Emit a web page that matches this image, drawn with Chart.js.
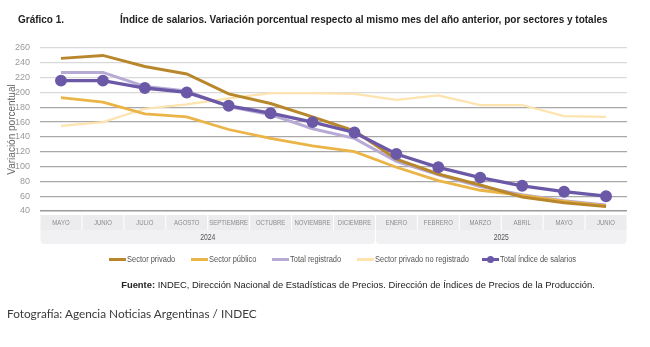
<!DOCTYPE html>
<html>
<head>
<meta charset="utf-8">
<script src="https://cdn.jsdelivr.net/npm/chart.js@4"></script>
<style>
  body { margin: 0; background: #fff; }
  #wrap { position: relative; width: 650px; height: 347px; overflow: hidden; }
  #wrap canvas { position: absolute; left: 0; top: 0; }
  .fit { position: absolute; white-space: nowrap; transform-origin: 0 50%; font-family: "Liberation Sans", Arial, sans-serif; }
  #num { left: 18px; top: 13px; font-size: 11.5px; font-weight: bold; color: #222; }
  #title { left: 120px; top: 13px; font-size: 11.5px; font-weight: bold; color: #222; }
  .leg { top: 253px; font-size: 8.5px; color: #555; line-height: 12px; }
  .sw { position: absolute; top: 258px; width: 17px; height: 3px; }
  .dot { position: absolute; top: -2px; left: 5px; width: 7px; height: 7px; border-radius: 50%; }
  #src { position: absolute; left: 0; width: 716px; top: 279px; text-align: center; font-family: "Liberation Sans", Arial, sans-serif; font-size: 9.4px; color: #222; white-space: nowrap; }
  #foot { position: absolute; left: 7px; top: 306px; font-family: Lato, "Open Sans", sans-serif; font-size: 11.8px; color: #3a3a3a; }
</style>
</head>
<body>
<div id="wrap">
  <canvas id="salarios"></canvas>
  <div id="num" class="fit" data-w="46">Gráfico 1.</div>
  <div id="title" class="fit" data-w="488">Índice de salarios. Variación porcentual respecto al mismo mes del año anterior, por sectores y totales</div>
  <div id="legend"></div>
  <div id="src"><b>Fuente:</b> INDEC, Dirección Nacional de Estadísticas de Precios. Dirección de Índices de Precios de la Producción.</div>
  <div id="foot">Fotografía: Agencia Noticias Argentinas / INDEC</div>
</div>
<script>
const months = ['MAYO', 'JUNIO', 'JULIO', 'AGOSTO', 'SEPTIEMBRE', 'OCTUBRE', 'NOVIEMBRE', 'DICIEMBRE',
                'ENERO', 'FEBRERO', 'MARZO', 'ABRIL', 'MAYO', 'JUNIO'];
const monthYear = ['2024', '2024', '2024', '2024', '2024', '2024', '2024', '2024',
                   '2025', '2025', '2025', '2025', '2025', '2025'];
const yTicks = [40, 260, 20]; // min, max, step

const sectorPrivado    = [246, 250, 235, 225, 198, 185, 167, 148, 110, 90, 75, 59, 51, 46];
const sectorPublico    = [193, 187, 171, 167, 150, 138, 128, 120, 99, 81, 68, 61, 53, 47];
const totalRegistrado  = [227, 227, 208, 202, 181, 170, 151, 138, 107, 89, 73, 62, 54, 48];
const privadoNoRegistr = [155, 160, 178, 184, 192, 199, 199, 198, 190, 196, 183, 183, 168, 167];
const totalIndice      = [216, 216, 206, 200, 182, 172, 160, 146, 117, 99, 85, 74, 66, 60];

const series = [
  { label: 'Sector privado', data: sectorPrivado, color: '#b8872c', width: 3, order: 1 },
  { label: 'Sector público', data: sectorPublico, color: '#ebb446', width: 2.8, order: 2 },
  { label: 'Total registrado', data: totalRegistrado, color: '#b7abd6', width: 3, order: 3 },
  { label: 'Sector privado no registrado', data: privadoNoRegistr, color: '#fde3ad', width: 2.2, order: 4 },
  { label: 'Total índice de salarios', data: totalIndice, color: '#6b58a6', width: 3.3, order: 0, dots: true }
];

// legend in html, text squeezed to look condensed
const legX = [109, 191, 272, 357, 482];
const legend = document.getElementById('legend');
series.forEach((s, i) => {
  const sw = document.createElement('div');
  sw.className = 'sw';
  sw.style.left = legX[i] + 'px';
  sw.style.background = s.color;
  if (s.dots) sw.innerHTML = '<div class="dot" style="background:' + s.color + '"></div>';
  legend.appendChild(sw);
  const t = document.createElement('div');
  t.className = 'fit leg';
  t.style.left = (legX[i] + 18) + 'px';
  t.style.transform = 'scaleX(0.88)';
  t.textContent = s.label;
  legend.appendChild(t);
});

document.querySelectorAll('[data-w]').forEach(el => {
  el.style.transform = 'scaleX(' + (el.dataset.w / el.scrollWidth) + ')';
});

// grey boxes with month and year under the plot
const monthAxis = {
  id: 'monthAxis',
  afterDraw(chart) {
    const { ctx, chartArea } = chart;
    const x = chart.scales.x;
    const w = (chartArea.right - chartArea.left) / months.length;
    const rowTop = chartArea.bottom + 4, rowH = 15, yearH = 14;
    ctx.save();
    ctx.textAlign = 'center';
    ctx.textBaseline = 'middle';
    const squeezed = (txt, cx, cy) => {
      ctx.save();
      ctx.translate(cx, cy);
      ctx.scale(0.8, 1);
      ctx.fillText(txt, 0, 0);
      ctx.restore();
    };
    months.forEach((m, i) => {
      const cx = x.getPixelForValue(i);
      ctx.fillStyle = '#ececee';
      ctx.fillRect(cx - w / 2 + 0.5, rowTop, w - 1, rowH);
      ctx.fillStyle = '#8c8c8c';
      ctx.font = '7.5px "Liberation Sans", Arial, sans-serif';
      squeezed(m, cx, rowTop + rowH / 2 + 0.5);
    });
    // year groups
    let start = 0;
    for (let i = 1; i <= monthYear.length; i++) {
      if (i === monthYear.length || monthYear[i] !== monthYear[start]) {
        const x0 = x.getPixelForValue(start) - w / 2 + 0.5;
        const x1 = x.getPixelForValue(i - 1) + w / 2 - 0.5;
        ctx.fillStyle = '#f1f1f3';
        ctx.beginPath();
        ctx.roundRect(x0, rowTop + rowH, x1 - x0, yearH, [0, 0, 4, 4]);
        ctx.fill();
        ctx.fillStyle = '#555';
        ctx.font = '8.5px "Liberation Sans", Arial, sans-serif';
        squeezed(monthYear[start], (x0 + x1) / 2, rowTop + rowH + yearH / 2 + 0.5);
        start = i;
      }
    }
    ctx.restore();
  }
};

new Chart(document.getElementById('salarios'), {
  type: 'line',
  data: {
    labels: months,
    datasets: series.map(s => ({
      label: s.label,
      data: s.data,
      borderColor: s.color,
      backgroundColor: s.color,
      borderWidth: s.width,
      pointRadius: s.dots ? 4.3 : 0,
      pointHoverRadius: s.dots ? 4.3 : 0,
      tension: 0,
      order: s.order
    }))
  },
  options: {
    responsive: true,
    maintainAspectRatio: false,
    animation: false,
    layout: { padding: { top: 48, right: 23, bottom: 136, left: 0 } },
    plugins: { legend: { display: false }, tooltip: { enabled: false } },
    scales: {
      x: {
        offset: true,
        grid: { display: false, drawTicks: false },
        border: { display: false },
        ticks: { display: false }
      },
      y: {
        min: yTicks[0],
        max: yTicks[1],
        afterFit: (s) => { s.width = 40; },
        border: { display: false },
        grid: {
          drawTicks: false,
          color: (c) => c.tick.value === 40 ? '#9a9a9a' : (c.tick.value >= 200 ? '#d9d9d9' : '#a8a8a8'),
          lineWidth: (c) => c.tick.value === 40 ? 1.6 : 1.2
        },
        ticks: {
          stepSize: yTicks[2],
          padding: 10,
          color: '#9a9a9a',
          font: { family: '"Liberation Sans", Arial, sans-serif', size: 9 }
        },
        title: {
          display: true,
          text: 'Variación porcentual',
          color: '#666',
          padding: { top: 6, bottom: 0 },
          font: { family: '"Liberation Sans", Arial, sans-serif', size: 10 }
        }
      }
    }
  },
  plugins: [monthAxis]
});
</script>
</body>
</html>
